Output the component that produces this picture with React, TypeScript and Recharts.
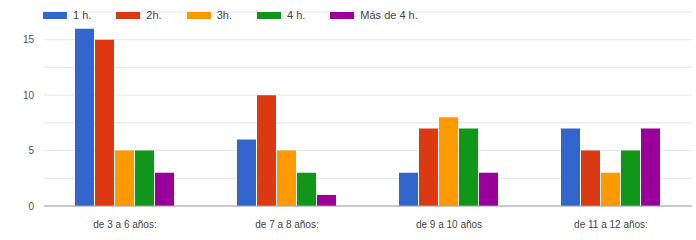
import React from "react";
import { BarChart, Bar, XAxis, YAxis, CartesianGrid, Legend } from "recharts";

const categories = ["de 3 a 6 años:", "de 7 a 8 años:", "de 9 a 10 años", "de 11 a 12 años:"];
const oneHour = [16, 6, 3, 7];
const twoHours = [15, 10, 7, 5];
const threeHours = [5, 5, 8, 3];
const fourHours = [5, 3, 7, 5];
const moreThanFour = [3, 1, 3, 7];
const yTicks = [0, 2.5, 5, 7.5, 10, 12.5, 15, 17.5];

const series = [
  { key: "h1", name: "1 h.", color: "#3366cc", values: oneHour },
  { key: "h2", name: "2h.", color: "#dc3912", values: twoHours },
  { key: "h3", name: "3h.", color: "#ff9900", values: threeHours },
  { key: "h4", name: "4 h.", color: "#109618", values: fourHours },
  { key: "h5", name: "Más de 4 h.", color: "#990099", values: moreThanFour },
];

const data = categories.map((cat, i) => {
  const row: Record<string, string | number> = { cat };
  series.forEach((s) => (row[s.key] = s.values[i]));
  return row;
});

const FONT = "'Liberation Sans', Arial, sans-serif";

const LegendRow = () => (
  <div style={{ display: "flex", alignItems: "center", fontFamily: FONT, fontSize: 11, color: "#444" }}>
    {series.map((s) => (
      <div key={s.key} style={{ display: "flex", alignItems: "center", marginRight: 25 }}>
        <span style={{ display: "inline-block", width: 24, height: 7, background: s.color, marginRight: 6 }} />
        <span>{s.name}</span>
      </div>
    ))}
  </div>
);

export default function App() {
  return (
    <div style={{ position: "absolute", left: 0, top: 0, background: "#fff" }}>
      <BarChart
        width={696}
        height={240}
        data={data}
        margin={{ top: 12, right: 4, bottom: 0, left: 0 }}
        barCategoryGap={31}
        barGap={1}
      >
        <CartesianGrid vertical={false} stroke="#e6e6e6" />
        <XAxis
          dataKey="cat"
          height={34}
          tickLine={false}
          axisLine={{ stroke: "#a0a0a0" }}
          tickMargin={9}
          tick={{ fontSize: 10, fill: "#444", fontFamily: FONT }}
          interval={0}
        />
        <YAxis
          width={44}
          domain={[0, 17.5]}
          ticks={yTicks}
          tickLine={false}
          axisLine={false}
          tickSize={0}
          tickMargin={10}
          tickFormatter={(v: number) => (v % 5 === 0 ? String(v) : "")}
          tick={{ fontSize: 10, fill: "#555", fontFamily: FONT }}
        />
        <Legend
          verticalAlign="middle"
          align="center"
          content={<LegendRow />}
          wrapperStyle={{ top: 9, left: 43, width: 540, height: 14 }}
        />
        {series.map((s) => (
          <Bar key={s.key} dataKey={s.key} name={s.name} fill={s.color} isAnimationActive={false} />
        ))}
      </BarChart>
    </div>
  );
}
